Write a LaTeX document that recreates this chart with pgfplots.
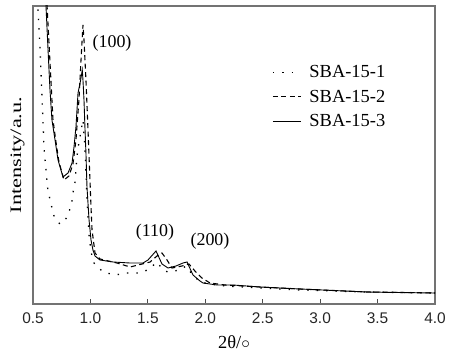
\documentclass[border=0pt]{standalone}
\usepackage{fontspec}
\setmainfont{Liberation Serif}
\newfontfamily\sansfont{Liberation Sans}
\usepackage{pgfplots}
\pgfplotsset{compat=1.18}
\begin{document}
\begin{tikzpicture}
\path[use as bounding box] (-33bp,-48bp) rectangle (417bp,304bp);
\begin{axis}[
  at={(0,0)}, anchor=south west,
  scale only axis, width=402bp, height=298bp,
  xmin=0.5, xmax=4.0, ymin=-9, ymax=289,
  xtick={0.5,1.0,...,4.0}, xtick pos=bottom, ytick=\empty,
  tick align=inside, major tick length=5bp,
  axis line style={draw=black!55, line width=1.4bp},
  every tick/.style={draw=black!70, line width=1bp},
  /pgf/number format/.cd, fixed, fixed zerofill, precision=1, assume math mode=true,
  /pgfplots/.cd,
  xticklabel style={font=\sansfont\fontsize{15.5}{15.5}\selectfont, text=black!85, yshift=-5bp},
  xlabel={\fontsize{18.5}{18.5}\selectfont 2θ/$\circ$},
  xlabel style={yshift=-5bp},
  ylabel={\scalebox{1.4}[1]{\fontsize{16}{16}\selectfont Intensity/a.u.}},
  ylabel style={yshift=5bp},
  legend style={at={(0.587,0.815)}, anchor=north west, draw=none, fill=none,
    font=\fontsize{18.5}{18.5}\selectfont, row sep=7bp},
  legend cell align=left,
  legend image code/.code={\draw[#1] (0cm,0cm) -- (0.98cm,0cm); \path (1.2cm,0cm);},
  clip=true,
]
\addplot[black, line width=1.3bp, dash pattern=on 1.4bp off 8bp] coordinates {
(0.539,295) (0.561,247) (0.584,182) (0.596,147) (0.613,125) (0.631,103)
(0.657,92) (0.674,81) (0.709,74) (0.735,71) (0.770,73) (0.805,80)
(0.837,92) (0.848,102) (0.866,113) (0.880,135) (0.892,147) (0.909,158)
(0.924,168) (0.935,175) (0.953,145) (0.970,95) (0.988,60) (1.005,43)
(1.031,32) (1.109,23) (1.214,20) (1.318,22) (1.405,22) (1.501,25)
(1.580,33) (1.632,25) (1.675,23) (1.780,25) (1.832,29) (1.884,21)
(1.954,13) (2.041,11) (2.172,9) (2.476,7) (2.825,5) (3.408,3) (4.0,2)
};
\addlegendentry{SBA-15-1}
\addplot[black, line width=1.1bp, dash pattern=on 5bp off 3.5bp] coordinates {
(0.618,299) (0.674,175) (0.700,153) (0.726,133) (0.770,115) (0.813,119)
(0.848,131) (0.874,155) (0.900,195) (0.918,235) (0.935,270) (0.944,255)
(0.961,215) (0.979,165) (0.996,115) (1.005,88) (1.014,65) (1.040,42)
(1.083,36) (1.231,32) (1.345,28) (1.449,31) (1.519,33) (1.580,39)
(1.623,42) (1.667,35) (1.710,27) (1.797,29) (1.858,31) (1.910,24)
(1.971,17) (2.041,12) (2.172,10) (2.476,8) (2.825,6) (3.408,3) (4.0,2)
};
\addlegendentry{SBA-15-2}
\addplot[black, line width=0.9bp] coordinates {
(0.609,299) (0.631,245) (0.648,205) (0.665,175) (0.692,155) (0.718,135)
(0.761,118) (0.805,122) (0.840,132) (0.857,148) (0.874,168) (0.892,202)
(0.915,215) (0.929,225) (0.935,215) (0.944,195) (0.953,165) (0.961,142)
(0.970,108) (0.988,75) (1.005,55) (1.022,45) (1.040,39) (1.083,35)
(1.197,33) (1.345,32) (1.458,32) (1.501,35) (1.571,44) (1.623,31)
(1.675,27) (1.745,29) (1.806,32) (1.841,33) (1.893,20) (1.954,14)
(1.980,12) (2.102,10) (2.241,10) (2.476,8) (2.825,6) (3.408,3) (4.0,2)
};
\addlegendentry{SBA-15-3}
\node[font=\fontsize{18}{18}\selectfont] at (axis cs:1.188,252) {(100)};
\node[font=\fontsize{18}{18}\selectfont] at (axis cs:1.562,63) {(110)};
\node[font=\fontsize{18}{18}\selectfont] at (axis cs:2.041,54) {(200)};
\end{axis}
\end{tikzpicture}
\end{document}
